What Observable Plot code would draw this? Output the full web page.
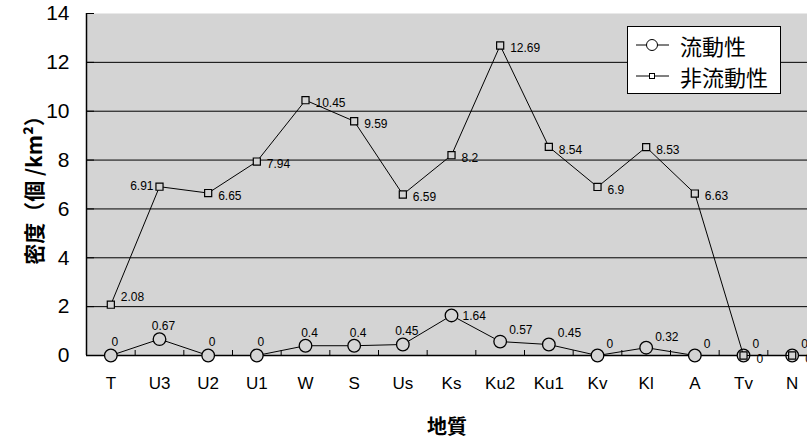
<!DOCTYPE html>
<html><head><meta charset="utf-8">
<script src="https://cdn.jsdelivr.net/npm/d3@7"></script>
<script src="https://cdn.jsdelivr.net/npm/@observablehq/plot@0.6"></script>
<style>
html,body{margin:0;padding:0;background:#fff;}
#wrap{position:relative;width:807px;height:441px;overflow:hidden;font-family:"Liberation Sans","Noto Sans CJK JP",sans-serif;}
#legend{position:absolute;left:627px;top:26px;width:152px;height:66px;background:#fff;border:1px solid #000;font-family:"Noto Sans CJK JP",sans-serif;font-size:22px;line-height:26px;}
#legend .row{position:absolute;left:7px;height:26px;display:flex;align-items:center;white-space:nowrap;}
#legend svg{margin-right:10px;}
</style>
</head><body>
<div id="wrap"><div id="chart"></div>
<div id="legend">
 <div class="row" style="top:5px"><svg width="35" height="14"><line x1="1" x2="34" y1="7" y2="7" stroke="#000"/><circle cx="17" cy="7" r="5.5" fill="#fff" stroke="#000"/></svg><span>流動性</span></div>
 <div class="row" style="top:36px"><svg width="35" height="14"><line x1="1" x2="34" y1="7" y2="7" stroke="#000"/><rect x="14.5" y="4.5" width="5" height="5" fill="#fff" stroke="#000"/></svg><span>非流動性</span></div>
</div>
</div>
<script>
const categories = ["T","U3","U2","U1","W","S","Us","Ks","Ku2","Ku1","Kv","Kl","A","Tv","N"];
const flowing = [0,0.67,0,0,0.4,0.4,0.45,1.64,0.57,0.45,0,0.32,0,0,0];
const nonFlowing = [2.08,6.91,6.65,7.94,10.45,9.59,6.59,8.2,12.69,8.54,6.9,8.53,6.63,0,0];
const yTicks = [0,2,4,6,8,10,12,14];
// label placement per point
const flowLabelPos = ["above","above","above","above","above","above","above","right","upright","upright","upright","upright","upright","upright","upright"];
const nonFlowLabelPos = ["upright","left","right","right","right","right","right","right","right","right","right","right","right","below","below"];

const bg = "#d4d4d4";
const flowData = categories.map((c,i)=>({i, c, v: flowing[i], pos: flowLabelPos[i]}));
const nonData = categories.map((c,i)=>({i, c, v: nonFlowing[i], pos: nonFlowLabelPos[i]}));
const idx = categories.map((c,i)=>i);
const bounds = categories.map((c,i)=>i+0.5);

const lab = (data, pos, opts) => Plot.text(data.filter(d=>d.pos===pos), {x:"i", y:"v", text:d=>String(d.v), fontSize:12, fill:"#000", ...opts});

const chart = Plot.plot({
  width: 816, height: 441,
  marginLeft: 86, marginRight: 0, marginTop: 13, marginBottom: 86,
  style: {fontFamily: "'Liberation Sans','Noto Sans CJK JP',sans-serif", background: "transparent", maxWidth: "none"},
  x: {type:"linear", domain:[-0.5, categories.length-0.5]},
  y: {domain:[0,14]},
  marks: [
    Plot.frame({fill: bg, stroke: null}),
    Plot.ruleY(yTicks.filter(t=>t>0 && t<14), {stroke:"#000", strokeWidth:1}),
    Plot.axisY(yTicks, {tickSize:0, tickPadding:17, fontSize:21, label:null, color:"#000"}),
    Plot.axisY(yTicks, {tickSize:-8, tickFormat:()=>"", label:null}),
    Plot.axisX(idx, {tickSize:0, tickPadding:21, fontSize:17, tickFormat:i=>categories[i], label:null}),
    Plot.axisX(bounds, {tickSize:-5, tickFormat:()=>"", label:null}),
    Plot.ruleX([-0.5], {stroke:"#000", strokeWidth:1.5}),
    Plot.ruleY([0], {stroke:"#000", strokeWidth:1.5}),
    Plot.line(flowData, {x:"i", y:"v", stroke:"#000", strokeWidth:1}),
    Plot.dot(flowData, {x:"i", y:"v", r:6.3, symbol:"circle", fill:bg, stroke:"#000", strokeWidth:1.3}),
    Plot.line(nonData, {x:"i", y:"v", stroke:"#000", strokeWidth:1}),
    Plot.dot(nonData, {x:"i", y:"v", r:4, symbol:"square", fill:bg, stroke:"#000", strokeWidth:1.2}),
    lab(flowData, "above", {dx:4, dy:-13, textAnchor:"middle"}),
    lab(flowData, "right", {dx:11, dy:1, textAnchor:"start"}),
    lab(flowData, "upright", {dx:9, dy:-11, textAnchor:"start"}),
    lab(nonData, "right", {dx:10, dy:3, textAnchor:"start"}),
    lab(nonData, "upright", {dx:10, dy:-8, textAnchor:"start"}),
    lab(nonData, "left", {dx:-6, dy:-1, textAnchor:"end"}),
    lab(nonData, "below", {dx:13, dy:4, textAnchor:"start"})
  ]
});
document.getElementById("chart").appendChild(chart);

// axis titles
const svg = d3.select(chart);
svg.append("text").attr("transform","translate(33,185) rotate(-90)")
  .attr("font-family","Noto Sans CJK JP").attr("font-weight","bold").attr("font-size",21)
  .attr("text-anchor","middle").attr("dominant-baseline","central").text("密度（個 /km²）");
svg.append("text").attr("x",447).attr("y",425)
  .attr("font-family","Noto Sans CJK JP").attr("font-weight","bold").attr("font-size",20)
  .attr("text-anchor","middle").attr("dominant-baseline","central").text("地質");
</script>
</body></html>
